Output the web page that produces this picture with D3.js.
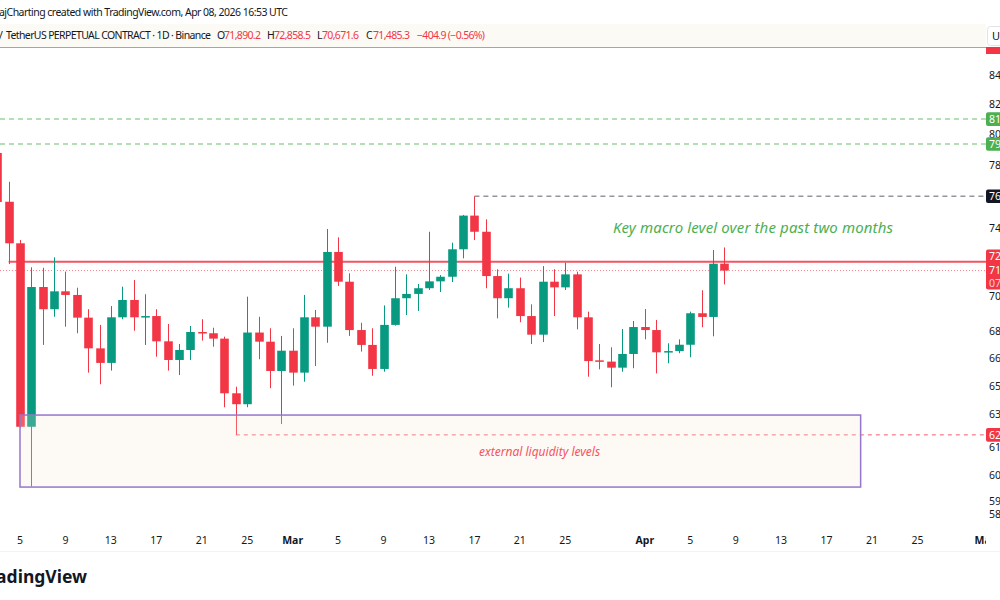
<!DOCTYPE html>
<html><head><meta charset="utf-8">
<script src="https://cdn.jsdelivr.net/npm/d3@7"></script>
<style>
body{margin:0;background:#fff;}
svg{display:block;font-family:"Noto Sans",sans-serif;}
</style>
</head><body>
<svg id="chart" width="1000" height="600"></svg>
<script>
// ---------- DATA ----------
const firstDay = "2026-02-03";
const opens  = [78770,75660,73110,62840,70520,69240,70270,70060,68760,67040,66240,68780,69770,68780,68850,67430,66400,66950,67950,67880,67580,64600,64020,67920,67410,65800,
                66910,65710,68780,68250,72590,70830,68060,67230,65910,68350,69870,70120,70450,70850,71120,72750,74800,73810,71160,69870,70450,68850,67800,70830,70500,71260,68780,66380,66310,65980,66730,
                68230,68060,66820,66890,67240,69010,68800,71890.2];
const highs  = [79000,76920,73310,71680,71650,72270,71420,70480,69240,68350,69420,70540,70930,70100,69240,68400,67280,68290,68670,68190,67690,64950,69960,68810,68160,67730,
                68160,70060,69200,73980,73470,71320,68470,68160,69460,71710,71260,70700,73810,71220,73150,74840,76000,74570,71560,71300,71070,69520,71750,71560,71950,71420,69100,67280,67100,68120,68570,
                69250,68630,67320,67540,69100,70330,72710,72858.5];
const lows   = [75460,71870,62780,59810,67230,68810,68250,67880,65710,65080,65820,68670,68020,67230,66580,65820,65580,66400,67470,67130,63860,62420,63860,66440,64870,62980,
                65010,65220,66070,67350,70580,67730,66860,65540,65760,68310,68910,69140,70350,70230,70810,72210,73310,70450,68720,69330,68500,67280,67390,68850,70350,68100,65490,65890,64920,65760,65950,
                67540,65670,66220,66770,66550,68220,67710,70671.6];
const closes = [75645,73110,62840,70520,69240,70270,70060,68760,67040,66240,68780,69770,68780,68850,67430,66400,66950,67950,67880,67580,64600,64020,67920,67410,65800,66910,
                65710,68780,68250,72590,70830,68060,67230,65910,68350,69870,70120,70450,70850,71120,72750,74800,73810,71160,69870,70450,68850,67800,70830,70500,71260,68780,66340,66330,65980,66730,68230,
                68060,66820,66890,67240,69010,68800,71890.2,71485.3];

const timeTickDates  = ["2026-02-05","2026-02-09","2026-02-13","2026-02-17","2026-02-21","2026-02-25","2026-03-01","2026-03-05","2026-03-09","2026-03-13","2026-03-17","2026-03-21","2026-03-25","2026-04-01","2026-04-05","2026-04-09","2026-04-13","2026-04-17","2026-04-21","2026-04-25","2026-05-01"];
const timeTickLabels = ["5","9","13","17","21","25","Mar","5","9","13","17","21","25","Apr","5","9","13","17","21","25","May"];
const priceTicks = [84000,82000,80000,78000,74000,70000,68000,66500,65000,63500,61800,60400,59100,58450];

// key levels
const greenLevels = [81000, 79350];
const highLevel = 76000, highLevelDate = "2026-03-17";
const macroLevel = 72000, macroLevelDate = "2026-02-04";
const lowLevel = 62420, lowLevelDate = "2026-02-24";
const boxTop = 63450, boxBottom = 59790, boxStart = "2026-02-05", boxEnd = "2026-04-20";
const boxLabelDate = "2026-03-23";
const topLevel = 85960;
const changeAbs = -404.9, changePct = -0.56;

// ---------- SETUP ----------
const svg = d3.select("#chart");
const W = 1000, H = 600, plotRight = 986, plotTop = 47, plotBottom = 527;
const UP = "#089981", DOWN = "#f23645";
const parse = d3.utcParse("%Y-%m-%d");
const start = parse(firstDay);
const dates = d3.utcDay.range(start, d3.utcDay.offset(start, opens.length));
const candles = dates.map((d,i)=>({d, o:opens[i], h:highs[i], l:lows[i], c:closes[i]}));

const xs = d3.scaleUtc().domain([parse("2026-02-05"), parse("2026-05-01")]).range([20, 985.6]);
const ys = d3.scaleLog().domain([58000, 86000]).range([523.9, 46.5]);
const fmt = d3.format(",.1f");

const defs = svg.append("defs");
defs.append("clipPath").attr("id","plotClip").append("rect").attr("x",0).attr("y",plotTop).attr("width",plotRight).attr("height",plotBottom-plotTop);
defs.append("clipPath").attr("id","timeClip").append("rect").attr("x",0).attr("y",525).attr("width",plotRight).attr("height",30);

svg.append("rect").attr("width",W).attr("height",H).attr("fill","#fff");

// header
svg.append("text").attr("x",-1).attr("y",16).attr("font-size",10.5).attr("fill","#131722")
  .attr("textLength",289).text("ajCharting created with TradingView.com, Apr 08, 2026 16:53 UTC");
svg.append("rect").attr("x",0).attr("y",24).attr("width",plotRight).attr("height",23).attr("fill","#fcfaf5");
const hdr = svg.append("g").attr("font-size",10.5);
hdr.append("text").attr("x",3).attr("y",39).attr("text-anchor","end").attr("fill","#131722").text("Bitcoin /");
hdr.append("text").attr("x",6).attr("y",39).attr("fill","#131722").attr("textLength",205).text("TetherUS PERPETUAL CONTRACT · 1D · Binance");
const last = candles[candles.length-1];
const hv = [["O",last.o,217,224],["H",last.h,267,274],["L",last.l,317,322],["C",last.c,366,373]];
hv.forEach(([k,v,xk,xv])=>{
  hdr.append("text").attr("x",xk).attr("y",39).attr("fill","#131722").text(k);
  hdr.append("text").attr("x",xv).attr("y",39).attr("fill",DOWN).attr("textLength",37).text(fmt(v));
});
hdr.append("text").attr("x",417).attr("y",39).attr("fill",DOWN).attr("textLength",68)
  .text(`${fmt(changeAbs).replace("-","−")} (${d3.format(".2f")(changePct).replace("-","−")}%)`);

const plot = svg.append("g").attr("clip-path","url(#plotClip)");

// levels
plot.append("line").attr("x1",0).attr("x2",plotRight).attr("y1",ys(topLevel)).attr("y2",ys(topLevel))
  .attr("stroke","#9575cd").attr("stroke-width",1.5);
greenLevels.forEach(v=>{
  plot.append("line").attr("x1",0).attr("x2",plotRight).attr("y1",ys(v)).attr("y2",ys(v))
    .attr("stroke","#4caf50").attr("stroke-opacity",0.55).attr("stroke-width",1.5).attr("stroke-dasharray","5,4");
});
plot.append("line").attr("x1",xs(parse(highLevelDate))).attr("x2",plotRight).attr("y1",ys(highLevel)).attr("y2",ys(highLevel))
  .attr("stroke","#787b86").attr("stroke-opacity",0.8).attr("stroke-width",1.5).attr("stroke-dasharray","5,4");
plot.append("line").attr("x1",xs(parse(macroLevelDate))).attr("x2",plotRight).attr("y1",ys(macroLevel)).attr("y2",ys(macroLevel))
  .attr("stroke",DOWN).attr("stroke-opacity",0.85).attr("stroke-width",2);
plot.append("line").attr("x1",0).attr("x2",plotRight).attr("y1",ys(last.c)).attr("y2",ys(last.c))
  .attr("stroke",DOWN).attr("stroke-opacity",0.6).attr("stroke-width",1).attr("stroke-dasharray","1,2");
plot.append("line").attr("x1",xs(parse(lowLevelDate))).attr("x2",plotRight).attr("y1",ys(lowLevel)).attr("y2",ys(lowLevel))
  .attr("stroke",DOWN).attr("stroke-opacity",0.8).attr("stroke-width",1).attr("stroke-dasharray","4,4");

// candles
const bw = 8.6;
const cg = plot.append("g");
cg.selectAll("line.wick").data(candles).join("line").attr("class","wick")
  .attr("x1",d=>Math.round(xs(d.d))+0.5).attr("x2",d=>Math.round(xs(d.d))+0.5)
  .attr("y1",d=>ys(d.h)).attr("y2",d=>ys(d.l))
  .attr("stroke",d=>d.c>=d.o?UP:DOWN).attr("stroke-width",1);
cg.selectAll("rect.body").data(candles).join("rect").attr("class","body")
  .attr("x",d=>Math.round(xs(d.d))+0.5-bw/2).attr("width",bw)
  .attr("y",d=>ys(Math.max(d.o,d.c)))
  .attr("height",d=>Math.max(1.5,Math.abs(ys(d.o)-ys(d.c))))
  .attr("fill",d=>d.c>=d.o?UP:DOWN);

// liquidity box
const bx0 = xs(parse(boxStart)), bx1 = xs(parse(boxEnd));
plot.append("rect").attr("x",bx0).attr("y",ys(boxTop)).attr("width",bx1-bx0).attr("height",ys(boxBottom)-ys(boxTop))
  .attr("fill","#f5ead2").attr("fill-opacity",0.22).attr("stroke","#9575cd").attr("stroke-width",1.5);
plot.append("text").attr("x",xs(parse(boxLabelDate))-3).attr("y",456).attr("text-anchor","middle")
  .attr("font-size",12).attr("font-style","italic").attr("fill","#f7525f").text("external liquidity levels");

plot.append("text").attr("x",753).attr("y",233).attr("text-anchor","middle")
  .attr("font-size",15).attr("font-style","italic").attr("fill","#4caf50").attr("textLength",280)
  .text("Key macro level over the past two months");

// time axis
const tg = svg.append("g").attr("clip-path","url(#timeClip)").attr("font-size",10.5).attr("fill","#131722");
timeTickDates.forEach((s,i)=>{
  tg.append("text").attr("x",xs(parse(s))).attr("y",544).attr("text-anchor","middle")
    .attr("font-weight",isNaN(+timeTickLabels[i])?"bold":"normal").text(timeTickLabels[i]);
});
svg.append("line").attr("x1",0).attr("x2",W).attr("y1",551.5).attr("y2",551.5).attr("stroke","#f0f3fa");

// price axis
const pg = svg.append("g").attr("font-size",10.5);
pg.append("rect").attr("x",plotRight).attr("y",plotTop-1).attr("width",W-plotRight).attr("height",plotBottom-plotTop+2).attr("fill","#fff");
priceTicks.forEach(v=>{
  pg.append("text").attr("x",989).attr("y",ys(v)+3.8).attr("fill","#131722").text(fmt(v));
});
function label(v, yc, fill, color){
  pg.append("rect").attr("x",plotRight).attr("y",yc-6.8).attr("width",18).attr("height",13.6).attr("rx",2).attr("fill",fill);
  pg.append("text").attr("x",989).attr("y",yc+3.8).attr("fill",color).text(fmt(v));
}
label(greenLevels[0], ys(greenLevels[0]), "#4caf50", "#fff");
label(greenLevels[1], ys(greenLevels[1]), "#4caf50", "#fff");
label(highLevel, ys(highLevel), "#131722", "#fff");
pg.append("rect").attr("x",plotRight).attr("y",249.5).attr("width",18).attr("height",40).attr("rx",2).attr("fill",DOWN);
pg.append("text").attr("x",989).attr("y",260).attr("fill","#fff").text(fmt(macroLevel));
pg.append("text").attr("x",989).attr("y",ys(last.c)+3.8).attr("fill","#fff").text(fmt(last.c));
pg.append("text").attr("x",989).attr("y",286.5).attr("fill","#fff").attr("fill-opacity",0.75).text("07:06:59");
label(lowLevel, ys(lowLevel), DOWN, "#fff");
pg.append("rect").attr("x",plotRight).attr("y",plotTop).attr("width",18).attr("height",7).attr("fill",DOWN);

// currency button
svg.append("rect").attr("x",987.5).attr("y",26.5).attr("width",20).attr("height",19).attr("rx",3).attr("fill","#fff").attr("stroke","#e0e3eb");
svg.append("text").attr("x",992).attr("y",40).attr("font-size",11).attr("fill","#131722").text("USDT");

// logo
svg.append("text").attr("x",87).attr("y",583).attr("text-anchor","end").attr("font-size",17.5).attr("font-weight","bold")
  .attr("fill","#131722").text("TradingView");
</script>
</body></html>
